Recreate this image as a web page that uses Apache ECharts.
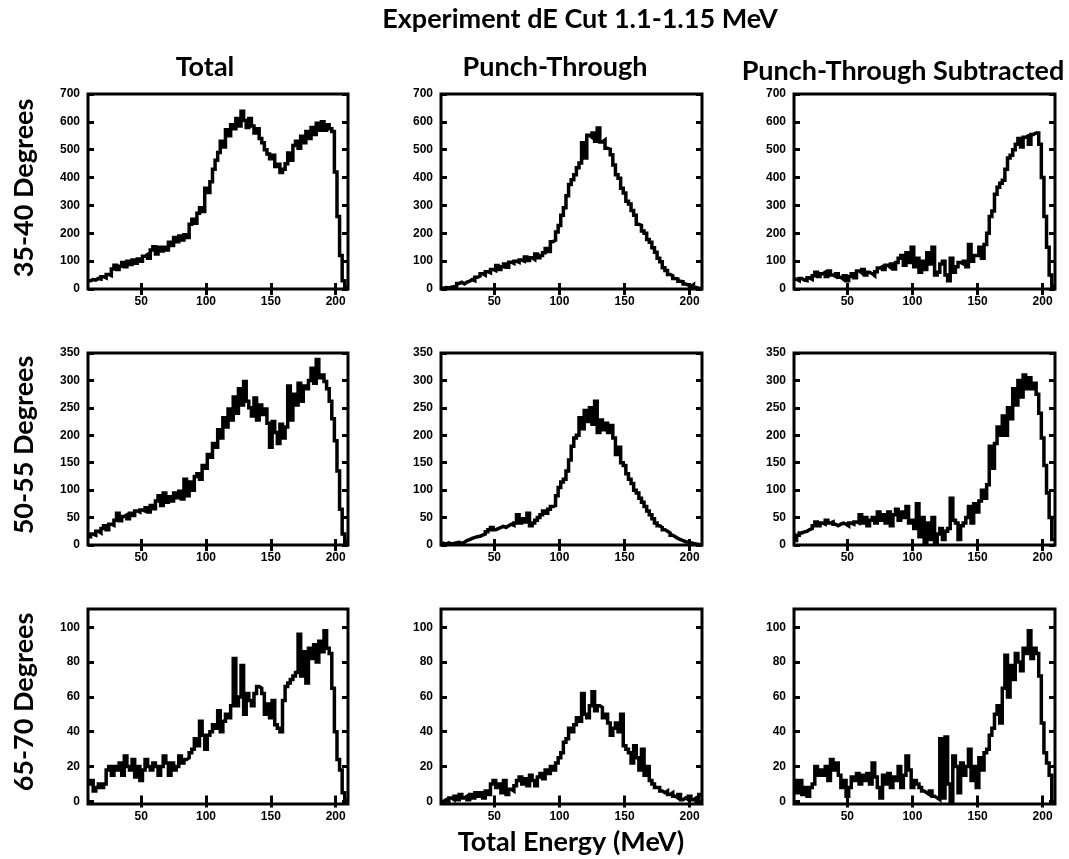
<!DOCTYPE html>
<html><head><meta charset="utf-8">
<script src="https://cdn.jsdelivr.net/npm/echarts@6/dist/echarts.min.js"></script>
<style>html,body{margin:0;padding:0;background:#fff}#c{width:1069px;height:859px}</style>
</head><body><div id="c"></div>
<script>
// ---- data ----
const binStart = 9;      // MeV, left edge of first bin
const binWidth = 2;      // MeV
const xTicks = [50, 100, 150, 200];
const yTicksRow1 = [0, 100, 200, 300, 400, 500, 600, 700];
const yTicksRow2 = [0, 50, 100, 150, 200, 250, 300, 350];
const yTicksRow3 = [0, 20, 40, 60, 80, 100];
const mainTitle = 'Experiment dE Cut 1.1-1.15 MeV';
const columnTitles = ['Total', 'Punch-Through', 'Punch-Through Subtracted'];
const rowTitles = ['35-40 Degrees', '50-55 Degrees', '65-70 Degrees'];
const xAxisTitle = 'Total Energy (MeV)';

// counts per 2 MeV bin (bin centres 10, 12, ..., 208)
const total_35_40 = [
  30,34,32,38,36,44,40,52,48,72,
  85,70,82,95,80,100,88,104,92,108,
  100,118,124,110,140,152,126,150,136,150,
  140,168,156,185,170,190,176,195,185,232,
  250,236,272,292,278,362,346,385,430,462,
  490,530,510,572,550,590,575,612,585,638,
  605,580,612,585,560,575,540,525,500,485,
  468,480,440,448,418,430,450,488,462,515,
  530,505,548,525,565,540,580,555,595,570,
  600,570,590,575,565,420,260,120,30,5];
const punch_35_40 = [
  3,5,4,6,8,10,20,24,18,25,
  28,34,30,42,46,55,50,62,58,70,
  66,84,70,80,90,78,96,92,100,96,
  104,100,115,102,112,106,126,112,120,130,
  145,135,170,175,205,228,265,292,335,375,
  392,410,435,452,525,470,552,545,560,530,
  578,528,535,505,502,482,445,410,398,362,
  345,315,305,282,265,232,228,208,200,178,
  168,148,132,110,98,76,66,52,48,38,
  36,28,26,18,14,8,15,5,3,1];
const subtracted_35_40 = [
  35,30,38,32,30,40,35,48,60,45,
  55,60,45,65,50,45,55,42,35,48,
  30,45,55,40,65,58,70,50,60,55,
  48,62,75,80,70,85,78,90,72,95,
  110,120,85,130,95,150,80,110,60,100,
  70,130,90,150,50,60,90,100,50,30,
  110,60,80,95,90,100,80,160,100,120,
  120,150,110,160,200,260,280,340,365,380,
  390,430,470,480,500,520,540,510,545,550,
  520,555,560,560,520,400,260,150,50,10];

const total_50_55 = [
  15,20,18,25,22,30,35,28,38,36,
  45,58,44,52,55,48,58,54,62,60,
  64,62,68,60,72,66,80,90,72,95,
  78,88,80,95,86,98,84,120,90,115,
  100,125,130,120,145,140,165,160,185,178,
  210,195,232,215,248,228,270,240,285,255,
  298,262,250,235,268,228,255,238,248,222,
  178,225,205,185,220,195,215,290,228,275,
  255,295,262,290,285,300,322,295,338,305,
  310,298,285,262,230,190,135,65,20,5];
const punch_50_55 = [
  3,2,4,2,3,4,5,3,5,8,
  10,12,14,15,16,18,20,24,28,32,
  28,30,32,34,32,35,38,36,40,55,
  40,48,42,58,35,40,45,50,55,62,
  58,65,70,72,90,105,115,120,135,155,
  180,195,200,232,212,245,225,250,220,262,
  205,228,210,222,205,218,195,165,178,150,
  145,130,120,112,100,95,85,78,70,62,
  55,48,40,35,32,28,25,22,18,15,
  12,10,8,6,5,4,3,2,1,0];
const subtracted_50_55 = [
  8,18,22,24,25,28,30,35,42,35,
  40,38,45,40,42,38,35,38,40,38,
  35,40,38,42,40,55,40,50,35,45,
  50,40,60,45,55,40,60,35,55,65,
  45,60,50,70,40,45,30,75,15,50,
  5,40,10,50,5,20,30,10,25,30,
  85,45,40,10,35,40,50,70,40,75,
  60,80,100,85,110,180,140,185,215,200,
  235,200,250,230,285,255,300,270,310,285,
  305,285,295,275,240,195,145,95,50,10];

const total_65_70 = [
  10,12,6,8,10,8,10,18,20,15,
  20,18,22,15,26,20,18,24,14,20,
  12,18,24,20,18,22,20,15,20,26,
  22,15,22,18,20,26,22,24,25,28,
  30,36,32,46,38,30,38,40,44,42,
  52,40,46,50,48,55,82,55,60,78,
  50,62,58,55,62,66,65,62,50,56,
  48,58,44,42,40,58,66,68,70,72,
  74,96,72,86,68,88,82,90,80,92,
  86,98,88,85,65,40,24,18,5,1];
const punch_65_70 = [
  0,1,0,2,1,3,1,4,2,3,
  1,4,2,5,3,5,2,6,4,10,
  12,8,10,5,12,4,7,6,9,12,
  14,10,13,9,15,12,9,14,16,13,
  18,16,20,18,22,25,28,34,36,42,
  40,44,48,46,62,50,48,55,63,52,
  55,54,48,50,45,38,42,45,40,50,
  32,30,28,22,32,25,18,30,15,20,
  12,10,8,8,6,5,6,4,5,3,
  2,4,1,2,1,3,1,2,0,4];
const subtracted_65_70 = [
  12,5,12,4,8,3,8,10,20,15,
  18,15,20,12,24,18,22,15,8,12,
  3,8,14,12,16,10,15,12,16,10,
  22,14,8,2,15,10,16,8,14,12,
  20,8,15,26,18,8,12,10,8,6,
  5,4,6,3,2,1,36,2,37,10,
  0,26,20,5,22,15,20,30,12,20,
  8,25,18,28,30,38,42,50,55,45,
  65,84,60,78,70,85,80,75,88,85,
  98,82,88,85,72,45,28,22,15,0];

const panelData = [
  [total_35_40, punch_35_40, subtracted_35_40],
  [total_50_55, punch_50_55, subtracted_50_55],
  [total_65_70, punch_65_70, subtracted_65_70]
];
const rowYTicks = [yTicksRow1, yTicksRow2, yTicksRow3];

// ---- layout / style ----
const colLeft = [88, 441, 794];
const colWidth = [260, 261, 261];
const rowTop = [94, 353, 609];
const rowHeight = [195, 192, 195];
const rowYRange = [[0, 700], [0, 350], [-1.5, 110.5]];
const xRange = [9, 209.5];
const tickFont = {color: '#000', fontFamily: 'Liberation Sans, Arial, sans-serif', fontWeight: 'bold', fontSize: 12};
const tickStyle = {show: true, inside: true, length: 6, lineStyle: {color: '#000', width: 3}};

function stepData(vals) {
  const d = vals.map((v, i) => [binStart + i * binWidth, v]);
  d.push([binStart + vals.length * binWidth, vals[vals.length - 1]]);
  return d;
}

const grids = [], xAxes = [], yAxes = [], series = [];
for (let r = 0; r < 3; r++) {
  for (let c = 0; c < 3; c++) {
    const g = grids.length;
    grids.push({left: colLeft[c], top: rowTop[r], width: colWidth[c], height: rowHeight[r],
      show: true, borderColor: '#000', borderWidth: 3, backgroundColor: 'transparent', containLabel: false});
    const yt = rowYTicks[r];
    xAxes.push({type: 'value', gridIndex: g, position: 'bottom', min: xRange[0], max: xRange[1],
      axisLine: {show: false}, splitLine: {show: false},
      axisTick: Object.assign({customValues: xTicks}, tickStyle),
      axisLabel: Object.assign({customValues: xTicks, margin: 7}, tickFont)});
    xAxes.push({type: 'value', gridIndex: g, position: 'top', min: xRange[0], max: xRange[1],
      axisLine: {show: false}, splitLine: {show: false},
      axisTick: Object.assign({customValues: xTicks}, tickStyle),
      axisLabel: {show: false}});
    yAxes.push({type: 'value', gridIndex: g, position: 'left', min: rowYRange[r][0], max: rowYRange[r][1],
      axisLine: {show: false}, splitLine: {show: false},
      axisTick: Object.assign({customValues: yt}, tickStyle),
      axisLabel: Object.assign({customValues: yt, margin: 8}, tickFont)});
    yAxes.push({type: 'value', gridIndex: g, position: 'right', min: rowYRange[r][0], max: rowYRange[r][1],
      axisLine: {show: false}, splitLine: {show: false},
      axisTick: Object.assign({customValues: yt}, tickStyle),
      axisLabel: {show: false}});
    series.push({type: 'line', xAxisIndex: 2 * g, yAxisIndex: 2 * g, step: 'end',
      showSymbol: false, symbol: 'none', clip: true,
      lineStyle: {color: '#000', width: 3.5, join: 'miter', cap: 'butt'},
      data: stepData(panelData[r][c])});
  }
}

const titleFont = 'Lato, "Open Sans", sans-serif';
function txt(text, x, y, size, rot) {
  return {type: 'text', x: x, y: y, rotation: rot || 0,
    style: {text: text, fontFamily: titleFont, fontWeight: 'bold', fontSize: size, fill: '#000', textAlign: 'center', textVerticalAlign: 'middle'}};
}
const graphics = [
  txt(mainTitle, 580, 19, 27),
  txt(columnTitles[0], 205, 67, 27),
  txt(columnTitles[1], 555, 67, 27),
  txt(columnTitles[2], 903, 71, 27),
  txt(xAxisTitle, 571, 842, 27)
];
const rowCenters = [188, 445, 702];
rowTitles.forEach((t, i) => graphics.push(txt(t, 24, rowCenters[i], 27, Math.PI / 2)));

const chart = echarts.init(document.getElementById('c'), null, {renderer: 'canvas'});
chart.setOption({
  animation: false,
  backgroundColor: '#fff',
  grid: grids, xAxis: xAxes, yAxis: yAxes, series: series,
  graphic: graphics
});
</script></body></html>
